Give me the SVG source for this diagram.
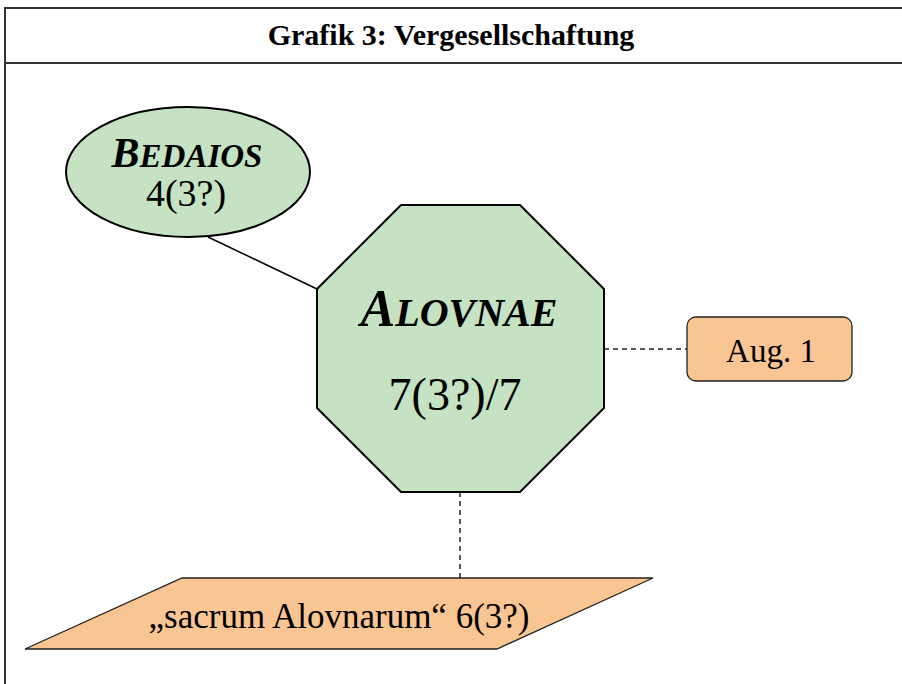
<svg xmlns="http://www.w3.org/2000/svg" width="902" height="684" viewBox="0 0 902 684">
<style>
text{font-family:"Liberation Serif","DejaVu Serif",serif;fill:#000}
.bi{font-weight:bold;font-style:italic}
.green{fill:#c5e3c3;stroke:#000;stroke-width:2}
.orange{fill:#f9c592;stroke:#222;stroke-width:1.3}
.solid{stroke:#000;stroke-width:1.5;fill:none}
.dash{stroke:#222;stroke-width:1.5;fill:none;stroke-dasharray:5 4}
.frame{stroke:#333;stroke-width:2;fill:none}
</style>
<rect width="902" height="684" fill="#fff"/>
<g id="frame">
<path class="frame" d="M5,684 V8 H902"/>
<line class="frame" x1="5" y1="63" x2="902" y2="63"/>
<text x="451" y="45" text-anchor="middle" font-size="30" font-weight="bold" font-family="Liberation Serif, serif">Grafik 3: Vergesellschaftung</text>
</g>
<g id="connectors">
<line class="solid" x1="208" y1="237" x2="317" y2="289"/>
<line class="dash" x1="604" y1="349" x2="687" y2="349"/>
<line class="dash" x1="460" y1="492" x2="460" y2="578"/>
</g>
<g id="bedaios">
<ellipse class="green" cx="188" cy="172" rx="122" ry="65" stroke-width="1.5"/>
<text class="bi" x="187" y="167" text-anchor="middle" font-family="Liberation Serif, serif"><tspan font-size="42">B</tspan><tspan font-size="33">EDAIOS</tspan></text>
<text x="186" y="206" text-anchor="middle" font-size="38" font-family="Liberation Serif, serif">4(3?)</text>
</g>
<g id="alovnae">
<polygon class="green" points="401,205 520,205 604,289 604,408 520,492 401,492 317,408 317,289"/>
<text class="bi" x="459" y="326" text-anchor="middle" font-family="Liberation Serif, serif"><tspan font-size="52">A</tspan><tspan font-size="40">LOVNAE</tspan></text>
<text x="455" y="410" text-anchor="middle" font-size="46" font-family="Liberation Serif, serif">7(3?)/7</text>
</g>
<g id="aug">
<rect class="orange" x="687" y="317" width="165" height="64" rx="9"/>
<text x="771" y="362" text-anchor="middle" font-size="33" font-family="Liberation Serif, serif">Aug. 1</text>
</g>
<g id="sacrum">
<polygon class="orange" points="182,578 653,578 497,649 25,649"/>
<text x="339" y="628" text-anchor="middle" font-size="35" font-family="Liberation Serif, serif">„sacrum Alovnarum“ 6(3?)</text>
</g>
</svg>
